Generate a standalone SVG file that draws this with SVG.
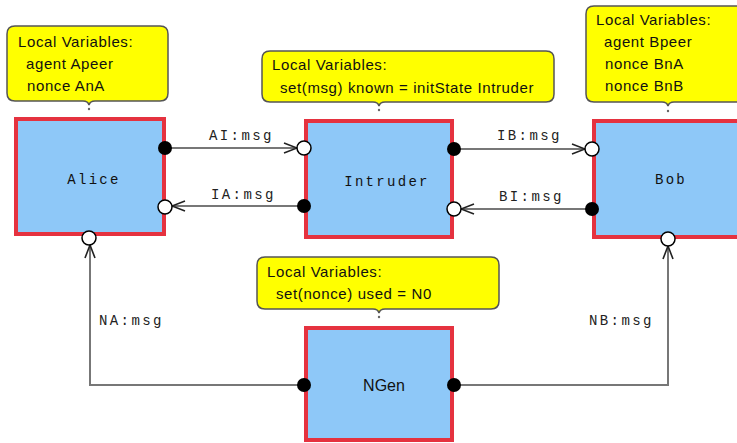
<svg xmlns="http://www.w3.org/2000/svg" width="737" height="443" viewBox="0 0 737 443">
<style>
.box{fill:#8ec8f8;stroke:#e5323f;stroke-width:4}
.call{fill:#ffff00;stroke:#555;stroke-width:1.5}
.ct{font-family:"Liberation Sans",Arial,sans-serif;font-size:15px;fill:#111;letter-spacing:0.6px}
.mono{font-family:"Liberation Mono","Courier New",monospace;font-size:14px;fill:#222;letter-spacing:2.4px}
.nl{font-family:"Liberation Mono","Courier New",monospace;font-size:14px;fill:#111;letter-spacing:2.3px;text-anchor:middle}
.ns{font-family:"Liberation Sans",Arial,sans-serif;font-size:16px;fill:#111;text-anchor:middle}
.wire{fill:none;stroke:#777;stroke-width:2}
.pin{fill:#000}
.pout{fill:#fff;stroke:#000;stroke-width:1.5}
.dot{fill:#666}
</style>
<defs>
<marker id="arr" viewBox="-14 -7 16 14" markerWidth="16" markerHeight="14" refX="0" refY="0" orient="auto" markerUnits="userSpaceOnUse">
<path d="M-13,-5 L0,0 L-13,5" fill="none" stroke="#222" stroke-width="1.6"/>
</marker>
</defs>

<g id="connectors">
<path class="wire" d="M165,148 H297" marker-end="url(#arr)"/>
<path class="wire" d="M304,206 H172" marker-end="url(#arr)"/>
<path class="wire" d="M454,149 H585" marker-end="url(#arr)"/>
<path class="wire" d="M592,209 H461" marker-end="url(#arr)"/>
<path class="wire" d="M304,385 H90 V245" marker-end="url(#arr)"/>
<path class="wire" d="M454,385 H668 V246" marker-end="url(#arr)"/>
<text class="mono" x="209" y="140">AI:msg</text>
<text class="mono" x="211" y="199">IA:msg</text>
<text class="mono" x="497" y="140">IB:msg</text>
<text class="mono" x="499" y="201">BI:msg</text>
<text class="mono" x="99" y="325">NA:msg</text>
<text class="mono" x="589" y="325">NB:msg</text>
</g>

<g id="alice">
<path class="call" d="M15,26 H160 Q168,26 168,34 V93 Q168,101 160,101 H95 Q90,101 89,105 Q88,101 83,101 H15 Q7,101 7,93 V34 Q7,26 15,26 Z"/>
<circle class="dot" cx="89" cy="109" r="1.2"/>
<text class="ct" x="18" y="47">Local Variables:</text>
<text class="ct" x="26" y="69">agent Apeer</text>
<text class="ct" x="27" y="91">nonce AnA</text>
<rect class="box" x="16" y="119" width="148" height="115"/>
<text class="nl" x="94" y="184">Alice</text>
<circle class="pin" cx="165" cy="148" r="7"/>
<circle class="pout" cx="165" cy="207" r="7"/>
<circle class="pout" cx="89" cy="238" r="7"/>
</g>

<g id="intruder">
<path class="call" d="M270,51 H546 Q554,51 554,59 V94 Q554,102 546,102 H385 Q380,102 379,106 Q378,102 373,102 H270 Q262,102 262,94 V59 Q262,51 270,51 Z"/>
<circle class="dot" cx="379" cy="110" r="1.2"/>
<text class="ct" x="272" y="70">Local Variables:</text>
<text class="ct" x="280" y="93">set(msg) known = initState Intruder</text>
<rect class="box" x="306" y="121" width="146" height="116"/>
<text class="nl" x="387" y="186">Intruder</text>
<circle class="pout" cx="304" cy="148" r="7"/>
<circle class="pin" cx="304" cy="206" r="7"/>
<circle class="pin" cx="454" cy="149" r="7"/>
<circle class="pout" cx="454" cy="209" r="7"/>
</g>

<g id="bob">
<path class="call" d="M594,6 H744 Q752,6 752,14 V94 Q752,102 744,102 H674 Q669,102 668,106 Q667,102 662,102 H594 Q586,102 586,94 V14 Q586,6 594,6 Z"/>
<circle class="dot" cx="668" cy="111" r="1.2"/>
<text class="ct" x="596" y="25">Local Variables:</text>
<text class="ct" x="604" y="47">agent Bpeer</text>
<text class="ct" x="605" y="69">nonce BnA</text>
<text class="ct" x="605" y="91">nonce BnB</text>
<rect class="box" x="594" y="121" width="148" height="116"/>
<text class="nl" x="671" y="184">Bob</text>
<circle class="pout" cx="592" cy="149" r="7"/>
<circle class="pin" cx="592" cy="209" r="7"/>
<circle class="pout" cx="668" cy="239" r="7"/>
</g>

<g id="ngen">
<path class="call" d="M265,257 H491 Q499,257 499,265 V301 Q499,309 491,309 H385 Q380,309 379,313 Q378,309 373,309 H265 Q257,309 257,301 V265 Q257,257 265,257 Z"/>
<circle class="dot" cx="379" cy="317" r="1.2"/>
<text class="ct" x="267" y="277">Local Variables:</text>
<text class="ct" x="276" y="299">set(nonce) used = N0</text>
<rect class="box" x="306" y="328" width="146" height="112"/>
<text class="ns" x="384" y="391">NGen</text>
<circle class="pin" cx="304" cy="385" r="7"/>
<circle class="pin" cx="454" cy="385" r="7"/>
</g>
</svg>
